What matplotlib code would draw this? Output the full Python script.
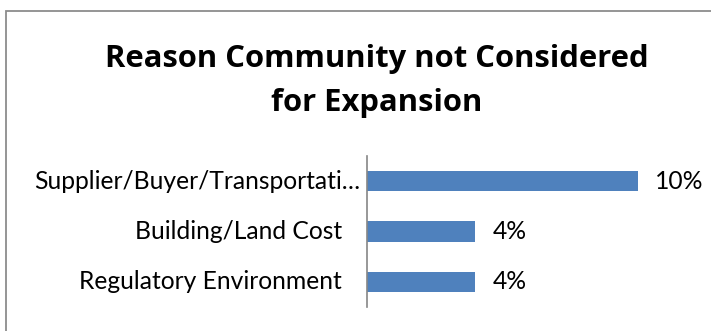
import matplotlib.pyplot as plt
from matplotlib.patches import Rectangle

categories = ["Supplier/Buyer/Transportati…", "Building/Land Cost", "Regulatory Environment"]
values = [0.10, 0.04, 0.04]
value_labels = ["10%", "4%", "4%"]

W, H = 711, 331
fig = plt.figure(figsize=(W / 100, H / 100), dpi=100)
plt.rcParams['font.family'] = ['Lato', 'DejaVu Sans']

# chart frame (only the left and top edges fall inside the image)
fig.patches.append(Rectangle((6 / W, -0.2), 1.2, 1.2 - 11 / H,
                             transform=fig.transFigure, fill=False,
                             edgecolor='#8c8c8c', linewidth=1.3))

title_font = dict(ha='center', va='baseline', fontsize=22.3, fontweight='bold',
                  family=['Open Sans', 'DejaVu Sans'])
fig.text(377 / W, 1 - 67 / H, "Reason Community not Considered", **title_font)
fig.text(377 / W, 1 - 111 / H, "for Expansion", **title_font)

ax = fig.add_axes([367 / W, 1 - 307 / H, 271 / W, 151 / H])
y = range(len(categories))
ax.barh(y, values, height=0.4, color='#4f81bd')
ax.set_ylim(2.5, -0.5)
ax.set_xlim(0, 0.10)
ax.set_yticks([])
ax.set_xticks([])
for s in ('top', 'right', 'bottom'):
    ax.spines[s].set_visible(False)
ax.spines['left'].set_color('#868686')
ax.spines['left'].set_linewidth(1.2)

# category names, the truncated one sits closer to the axis
px = 0.10 / 271
name_gap = [7, 25, 25]
for i, (name, g) in enumerate(zip(categories, name_gap)):
    ax.text(-g * px, i, name, ha='right', va='center', fontsize=17.7, clip_on=False)

for i, (v, lab) in enumerate(zip(values, value_labels)):
    ax.text(v + 17 * px, i, lab, va='center', ha='left', fontsize=17.7, clip_on=False)

fig.savefig('out.png', dpi=100)
